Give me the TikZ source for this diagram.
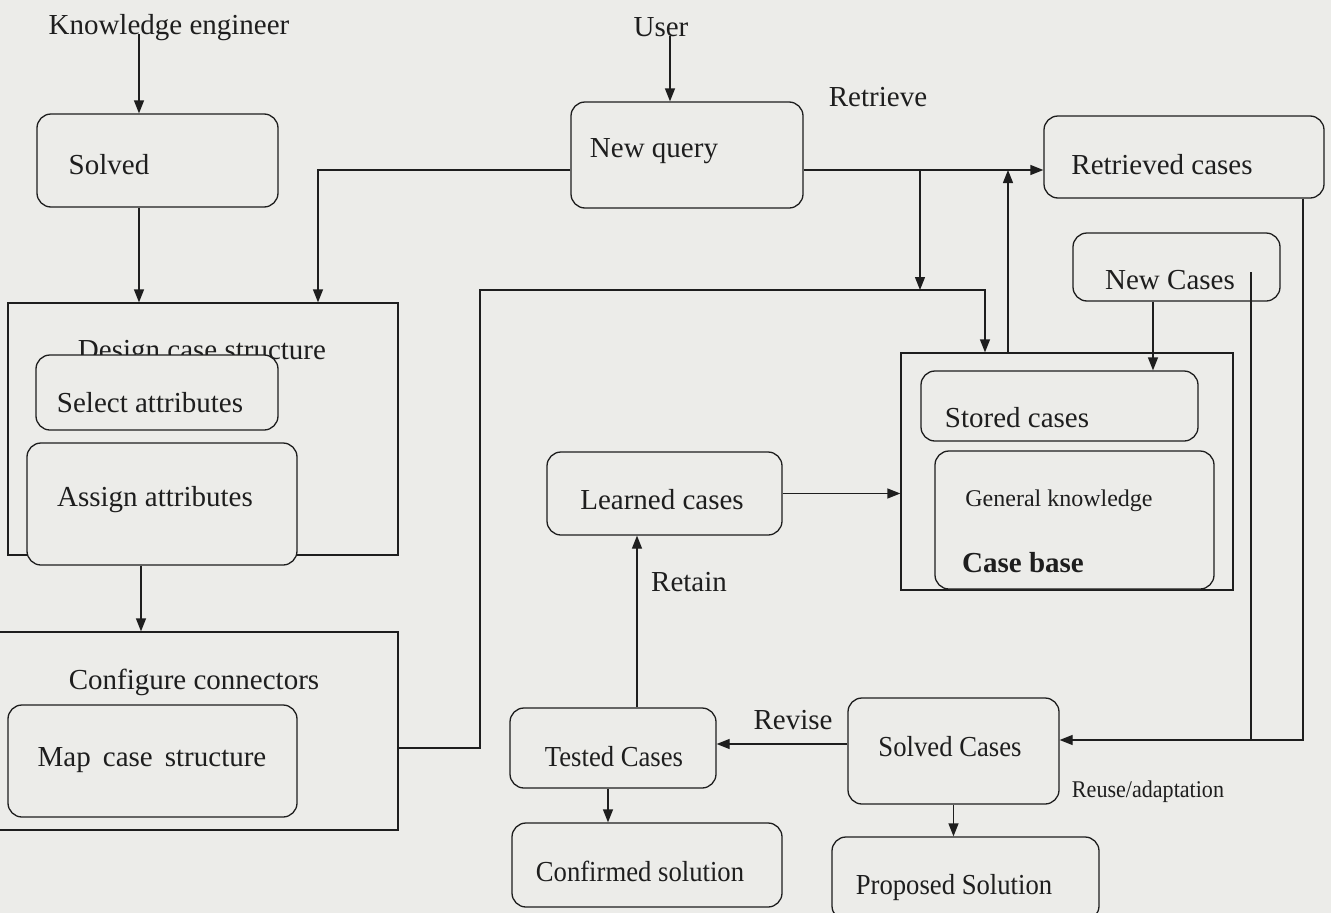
\documentclass[tikz,border=0pt]{standalone}
\usepackage{fontspec}
\setmainfont{Liberation Serif}
\newfontfamily\narrowfont[FakeStretch=0.92]{Liberation Serif}
\usepackage{tikz}
\usetikzlibrary{arrows.meta,calc}

\definecolor{paper}{RGB}{236,236,233}
\definecolor{ink}{RGB}{30,30,30}

\tikzset{
  box/.style={draw=ink, fill=paper, line width=1.3pt, rounded corners=14pt, inner sep=0pt},
  frame/.style={draw=ink, fill=paper, line width=1.3pt, inner sep=0pt},
  lbl/.style={anchor=base, inner sep=0pt, text=ink, font=\fontsize{29}{34}\selectfont},
  nlbl/.style={lbl, font=\narrowfont\fontsize{29}{34}\selectfont},
  conn/.style={draw=ink, line width=1.3pt},
  arr/.style={conn, -{Triangle[length=13pt,width=10pt]}},
}

\begin{document}
\begin{tikzpicture}[x=1pt,y=-1pt]
      \clip (0,0) rectangle (1331,913);
      \fill[paper] (0,0) rectangle (1331,913);

      % left column
      \node[lbl] (ke) at (169,34) {Knowledge engineer};
      \node[box, minimum width=241pt, minimum height=93pt] (solved) at (157.5,160.5) {};
      \node[lbl] (solvedtxt) at (109,174) {Solved};

      \node[frame, minimum width=390pt, minimum height=252pt] (design) at (203,429) {};
      \node[lbl] (designtxt) at (202,359) {Design case structure};
      \node[box, minimum width=242pt, minimum height=75pt] (select) at (157,392.5) {};
      \node[lbl] (selecttxt) at (150,412) {Select attributes};
      \node[box, minimum width=270pt, minimum height=122pt] (assign) at (162,504) {};
      \node[lbl] (assigntxt) at (155,506) {Assign attributes};

      \node[frame, minimum width=408pt, minimum height=198pt] (config) at (194,731) {};
      \node[lbl] (configtxt) at (194,689) {Configure connectors};
      \node[box, minimum width=289pt, minimum height=112pt] (map) at (152.5,761) {};
      \node[lbl] (maptxt) at (152,766) {Map\, case\, structure};

      % query and retrieval
      \node[lbl] (user) at (661,36) {User};
      \node[box, minimum width=232pt, minimum height=106pt] (newquery) at (687,155) {};
      \node[lbl] (querytxt) at (654,157) {New query};
      \node[lbl] (retrieve) at (878,106) {Retrieve};
      \node[box, minimum width=280pt, minimum height=82pt] (retrieved) at (1184,157) {};
      \node[lbl] (retrievedtxt) at (1162,174) {Retrieved cases};
      \node[box, minimum width=207pt, minimum height=68pt] (newcases) at (1176.5,267) {};
      \node[lbl] (newcasestxt) at (1170,289) {New Cases};

      % case base
      \node[frame, minimum width=332pt, minimum height=237pt] (casebase) at (1067,471.5) {};
      \node[box, minimum width=277pt, minimum height=70pt] (stored) at (1059.5,406) {};
      \node[lbl] (storedtxt) at (1017,427) {Stored cases};
      \node[box, minimum width=279pt, minimum height=138pt] (general) at (1074.5,520) {};
      \node[lbl, font=\fontsize{24}{28}\selectfont] (generaltxt) at (1059,506) {General knowledge};
      \node[lbl, font=\fontsize{29}{34}\selectfont\bfseries] (casebasetxt) at (1023,572) {Case base};

      % revise and retain
      \node[box, minimum width=235pt, minimum height=83pt] (learned) at (664.5,493.5) {};
      \node[lbl] (learnedtxt) at (662,509) {Learned cases};
      \node[lbl] (retain) at (689,591) {Retain};
      \node[box, minimum width=206pt, minimum height=80pt] (tested) at (613,748) {};
      \node[nlbl] (testedtxt) at (614,766) {Tested Cases};
      \node[lbl] (revise) at (793,729) {Revise};
      \node[box, minimum width=211pt, minimum height=106pt] (solvedcases) at (953.5,751) {};
      \node[nlbl] (solvedcasestxt) at (950,756) {Solved Cases};
      \node[lbl, font=\narrowfont\fontsize{24}{28}\selectfont] (reuse) at (1148,797) {Reuse/adaptation};
      \node[box, minimum width=270pt, minimum height=84pt] (confirmed) at (647,865) {};
      \node[nlbl] (confirmedtxt) at (640,881) {Confirmed solution};
      \node[box, minimum width=267pt, minimum height=83pt] (proposed) at (965.5,878.5) {};
      \node[nlbl] (proposedtxt) at (954,894) {Proposed Solution};

      % bend points
      \coordinate (split) at (920,170);
      \coordinate (bus) at (480,290);
      \coordinate (join) at (1251,740);

      % connectors
      \draw[arr] ([xshift=-30pt]ke.base) -- ([xshift=-30pt]ke.base |- solved.north);
      \draw[arr] ([xshift=-18.5pt]solved.south) -- ([xshift=-18.5pt]solved.south |- design.north);
      \draw[arr] ([xshift=-21pt]assign.south) -- ([xshift=-21pt]assign.south |- config.north);
      \draw[arr] ([xshift=9pt]user.base) -- ([xshift=9pt]user.base |- newquery.north);
      \draw[arr] ([yshift=-15pt]newquery.west) -| ([xshift=115pt]design.north);
      \draw[arr] ([yshift=-15pt]newquery.east) -- ([yshift=-15pt]newquery.east -| retrieved.west);
      \draw[arr] (split) -- (split |- bus);
      \draw[arr] ([yshift=-17pt]config.east) -| (bus) -| ([xshift=-82pt]casebase.north);
      \draw[arr] ([xshift=-59pt]casebase.north) -- ([xshift=-59pt]casebase.north |- split);
      \draw[arr] ([xshift=119pt]retrieved.south) |- ([yshift=11pt]solvedcases.east);
      \draw[conn] ([xshift=74.5pt,yshift=-5pt]newcases.center) -- (join);
      \draw[arr] ([xshift=-23.5pt]newcases.south) -- ([xshift=-23.5pt]newcases.south |- stored.north);
      \draw[arr] (learned.east) -- (learned.east -| casebase.west);
      \draw[arr] ([xshift=24pt]tested.north) -- ([xshift=24pt]tested.north |- learned.south);
      \draw[arr] ([yshift=7pt]solvedcases.west) -- ([yshift=7pt]solvedcases.west -| tested.east);
      \draw[arr] ([xshift=-5pt]tested.south) -- ([xshift=-5pt]tested.south |- confirmed.north);
      \draw[arr] (solvedcases.south) -- (solvedcases.south |- proposed.north);
\end{tikzpicture}
\end{document}
